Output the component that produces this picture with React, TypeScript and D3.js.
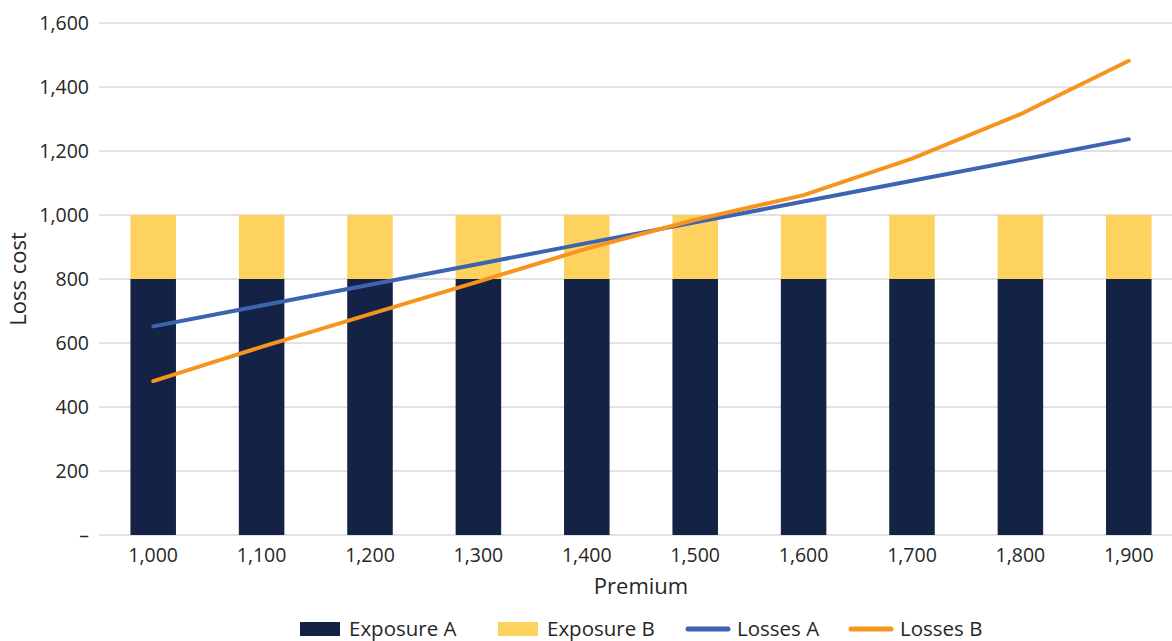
import React, { useEffect, useRef } from "react";
import * as d3 from "d3";

const premiums = [1000, 1100, 1200, 1300, 1400, 1500, 1600, 1700, 1800, 1900];
const exposureA = [800, 800, 800, 800, 800, 800, 800, 800, 800, 800];
const exposureB = [200, 200, 200, 200, 200, 200, 200, 200, 200, 200];
const lossesA = [652, 717, 782, 847, 912, 977, 1042, 1107, 1172, 1237];
const lossesB = [481, 588, 690, 792, 895, 985, 1062, 1176, 1315, 1482];
const yTicks = [0, 200, 400, 600, 800, 1000, 1200, 1400, 1600];

const legendItems = [
  { label: "Exposure A", color: "#132245", kind: "rect" },
  { label: "Exposure B", color: "#fed25e", kind: "rect" },
  { label: "Losses A", color: "#3d64b0", kind: "line" },
  { label: "Losses B", color: "#f7941d", kind: "line" },
];

const W = 1172;
const H = 641;
const font = "'Open Sans', 'Noto Sans', sans-serif";

const App = () => {
  const ref = useRef<SVGSVGElement>(null);

  useEffect(() => {
    drawChart();
  }, []);

  const drawChart = () => {
    const svg = d3.select(ref.current);
    svg.selectAll("*").remove();

    const left = 99;
    const right = 1183;
    const top = 23;
    const bottom = 535;

    const x = d3.scaleBand<number>()
      .domain(premiums)
      .range([left, right])
      .paddingInner(0.58)
      .paddingOuter(0.29);
    const y = d3.scaleLinear().domain([0, 1600]).range([bottom, top]);
    const fmt = d3.format(",");

    // grid
    svg.append("g")
      .selectAll("line")
      .data(yTicks)
      .enter()
      .append("line")
      .attr("x1", left)
      .attr("x2", right)
      .attr("y1", (d) => y(d))
      .attr("y2", (d) => y(d))
      .attr("stroke", "#d9d9d9")
      .attr("stroke-width", 1.5);

    // y labels
    svg.append("g")
      .selectAll("text")
      .data(yTicks)
      .enter()
      .append("text")
      .attr("x", 89)
      .attr("y", (d) => y(d))
      .attr("dy", "0.35em")
      .attr("text-anchor", "end")
      .attr("font-family", font)
      .attr("font-size", 19.5)
      .attr("fill", "#262626")
      .text((d) => (d === 0 ? "–" : fmt(d)));

    // x labels
    svg.append("g")
      .selectAll("text")
      .data(premiums)
      .enter()
      .append("text")
      .attr("x", (d) => x(d)! + x.bandwidth() / 2)
      .attr("y", 562)
      .attr("text-anchor", "middle")
      .attr("font-family", font)
      .attr("font-size", 19.5)
      .attr("fill", "#262626")
      .text((d) => fmt(d));

    // stacked bars
    const bars = svg.append("g");
    premiums.forEach((p, i) => {
      bars.append("rect")
        .attr("x", x(p)!)
        .attr("width", x.bandwidth())
        .attr("y", y(exposureA[i]))
        .attr("height", y(0) - y(exposureA[i]))
        .attr("fill", "#132245");
      bars.append("rect")
        .attr("x", x(p)!)
        .attr("width", x.bandwidth())
        .attr("y", y(exposureA[i] + exposureB[i]))
        .attr("height", y(exposureA[i]) - y(exposureA[i] + exposureB[i]))
        .attr("fill", "#fed25e");
    });

    // lines
    const line = d3.line<number>()
      .x((d, i) => x(premiums[i])! + x.bandwidth() / 2)
      .y((d) => y(d));
    [
      { data: lossesA, color: "#3d64b0" },
      { data: lossesB, color: "#f7941d" },
    ].forEach((s) => {
      svg.append("path")
        .attr("d", line(s.data))
        .attr("fill", "none")
        .attr("stroke", s.color)
        .attr("stroke-width", 4)
        .attr("stroke-linecap", "round")
        .attr("stroke-linejoin", "round");
    });

    // axis titles
    svg.append("text")
      .attr("x", 641)
      .attr("y", 594)
      .attr("text-anchor", "middle")
      .attr("font-family", font)
      .attr("font-size", 22)
      .attr("fill", "#262626")
      .text("Premium");
    svg.append("text")
      .attr("transform", "translate(26," + (top + bottom) / 2 + ") rotate(-90)")
      .attr("text-anchor", "middle")
      .attr("font-family", font)
      .attr("font-size", 22)
      .attr("fill", "#262626")
      .text("Loss cost");

    // legend
    const legendX = [300, 498, 686, 849];
    const lg = svg.append("g");
    legendItems.forEach((item, i) => {
      const g = lg.append("g").attr("transform", "translate(" + legendX[i] + ",629)");
      if (item.kind === "rect") {
        g.append("rect").attr("x", 0).attr("y", -7).attr("width", 40).attr("height", 14).attr("fill", item.color);
      } else {
        g.append("line").attr("x1", 2).attr("x2", 42).attr("y1", 0).attr("y2", 0)
          .attr("stroke", item.color).attr("stroke-width", 5).attr("stroke-linecap", "round");
      }
      g.append("text")
        .attr("x", item.kind === "rect" ? 49 : 51)
        .attr("y", 0)
        .attr("dy", "0.35em")
        .attr("font-family", font)
        .attr("font-size", 20.5)
        .attr("fill", "#262626")
        .text(item.label);
    });
  };

  return (
    <div style={{ position: "absolute", left: 0, top: 0 }}>
      <svg ref={ref} width={W} height={H} style={{ display: "block", background: "#fff" }} />
    </div>
  );
};

export default App;
